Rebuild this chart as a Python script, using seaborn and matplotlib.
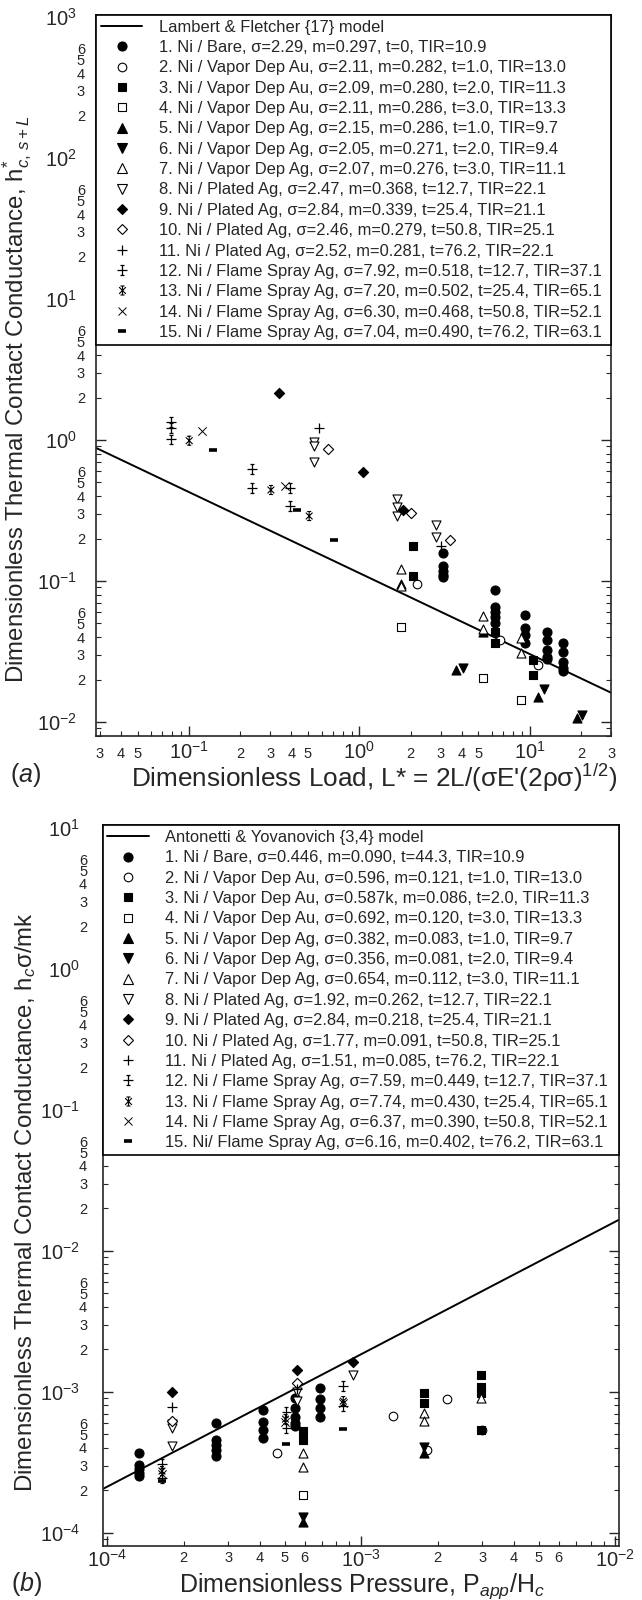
import numpy as np
import pandas as pd
import matplotlib
matplotlib.use("Agg")
import matplotlib.pyplot as plt
import seaborn as sns
from matplotlib.path import Path
from matplotlib.lines import Line2D
from matplotlib.ticker import LogLocator, FuncFormatter

# ---------------------------------------------------------------- data
# (a) dimensionless load L* vs. dimensionless conductance h*c,s+L
a1_x = [3.08] * 5 + [6.24] * 5 + [9.31] * 4 + [12.6] * 5 + [15.7] * 5
a1_y = [0.159, 0.128, 0.118, 0.110, 0.106,
        0.0863, 0.0654, 0.0603, 0.0556, 0.0504,
        0.0574, 0.0462, 0.0414, 0.0362,
        0.0437, 0.0382, 0.0324, 0.0290, 0.0279,
        0.0365, 0.0312, 0.0268, 0.0240, 0.0231]
a2_x = [2.19, 6.68, 11.1]
a2_y = [0.0952, 0.0382, 0.0254]
a3_x = [2.07, 2.07, 6.24, 6.24, 10.5, 10.5]
a3_y = [0.177, 0.108, 0.0437, 0.0361, 0.0275, 0.0216]
a4_x = [1.75, 5.29, 8.91]
a4_y = [0.0469, 0.0204, 0.0143]
a5_x = [1.75, 5.29, 3.69, 11.15, 18.9]
a5_y = [0.0952, 0.0435, 0.0234, 0.0151, 0.0106]
a6_x = [4.05, 12.1, 20.2]
a6_y = [0.0242, 0.0171, 0.0113]
a7_x = [1.75, 1.75, 5.29, 5.29, 8.87, 8.87]
a7_y = [0.121, 0.0922, 0.0565, 0.0457, 0.0394, 0.0309]
a8_x = [0.542, 0.542, 0.542, 1.67, 1.67, 1.67, 2.83, 2.83]
a8_y = [0.968, 0.907, 0.702, 0.380, 0.335, 0.289, 0.249, 0.206]
a9_x = [0.340, 1.046, 1.80]
a9_y = [2.17, 0.596, 0.319]
a10_x = [0.654, 2.01, 3.40]
a10_y = [0.859, 0.304, 0.194]
a11_x = [0.580, 3.03]
a11_y = [1.21, 0.177]
a12_x = [0.0785, 0.0785, 0.0785, 0.2354, 0.2354, 0.392, 0.392]
a12_y = [1.34, 1.22, 1.01, 0.620, 0.454, 0.454, 0.340]
a13_x = [0.1005, 0.303, 0.508]
a13_y = [0.989, 0.442, 0.289]
a14_x = [0.120, 0.366]
a14_y = [1.158, 0.472]
a15_x = [0.139, 0.431, 0.710]
a15_y = [0.849, 0.319, 0.195]
model_a_x = [0.0286, 30.1]
model_a_y = [0.878, 0.0161]

# (b) dimensionless pressure Papp/Hc vs. hc*sigma/mk
b1_x = [1.336e-4] * 5 + [2.69e-4] * 5 + [4.11e-4] * 4 + [5.48e-4] * 5 + [6.86e-4] * 4
b1_y = [3.69e-4, 3.02e-4, 2.82e-4, 2.66e-4, 2.52e-4,
        5.97e-4, 4.54e-4, 4.19e-4, 3.86e-4, 3.50e-4,
        7.41e-4, 6.12e-4, 5.35e-4, 4.67e-4,
        8.98e-4, 7.62e-4, 6.58e-4, 5.97e-4, 5.71e-4,
        1.057e-3, 8.83e-4, 7.62e-4, 6.65e-4]
b2_x = [4.67e-4, 1.34e-3, 1.82e-3, 2.18e-3, 2.99e-3]
b2_y = [3.69e-4, 6.76e-4, 3.86e-4, 8.83e-4, 5.35e-4]
b3_x = [5.91e-4, 5.91e-4, 1.775e-3, 1.775e-3, 2.96e-3, 2.96e-3, 2.96e-3, 2.96e-3]
b3_y = [5.26e-4, 4.54e-4, 9.75e-4, 8.28e-4, 1.314e-3, 1.085e-3, 9.75e-4, 5.35e-4]
b4_x = [5.91e-4]
b4_y = [1.85e-4]
b5_x = [5.91e-4, 1.775e-3]
b5_y = [1.19e-4, 3.67e-4]
b6_x = [5.91e-4, 1.775e-3]
b6_y = [1.30e-4, 4.07e-4]
b7_x = [5.91e-4, 5.91e-4, 1.775e-3, 1.775e-3, 2.96e-3]
b7_y = [3.69e-4, 2.91e-4, 7.03e-4, 6.22e-4, 8.98e-4]
b8_x = [1.807e-4, 1.807e-4, 1.807e-4, 5.58e-4, 5.58e-4, 9.33e-4]
b8_y = [5.90e-4, 5.53e-4, 4.12e-4, 1.0e-3, 8.63e-4, 1.314e-3]
b9_x = [1.807e-4, 5.58e-4, 9.33e-4]
b9_y = [1.0e-3, 1.426e-3, 1.633e-3]
b10_x = [1.807e-4, 5.58e-4]
b10_y = [6.22e-4, 1.147e-3]
b11_x = [1.807e-4, 5.58e-4]
b11_y = [7.75e-4, 1.05e-3]
b12_x = [1.646e-4, 1.646e-4, 5.08e-4, 5.08e-4, 8.51e-4, 8.51e-4]
b12_y = [3.10e-4, 2.44e-4, 7.21e-4, 5.50e-4, 1.097e-3, 7.92e-4]
b13_x = [1.646e-4, 5.04e-4, 8.51e-4]
b13_y = [2.74e-4, 6.40e-4, 8.59e-4]
b14_x = [1.646e-4, 5.04e-4, 8.51e-4]
b14_y = [2.61e-4, 6.09e-4, 8.31e-4]
b15_x = [1.646e-4, 5.08e-4, 8.51e-4]
b15_y = [2.33e-4, 4.26e-4, 5.44e-4]
model_b_x = [9.6e-5, 1.035e-2]
model_b_y = [2.04e-4, 1.66e-2]

labels_a = [
    "Lambert & Fletcher {17} model",
    "1. Ni / Bare, σ=2.29, m=0.297, t=0, TIR=10.9",
    "2. Ni / Vapor Dep Au, σ=2.11, m=0.282, t=1.0, TIR=13.0",
    "3. Ni / Vapor Dep Au, σ=2.09, m=0.280, t=2.0, TIR=11.3",
    "4. Ni / Vapor Dep Au, σ=2.11, m=0.286, t=3.0, TIR=13.3",
    "5. Ni / Vapor Dep Ag, σ=2.15, m=0.286, t=1.0, TIR=9.7",
    "6. Ni / Vapor Dep Ag, σ=2.05, m=0.271, t=2.0, TIR=9.4",
    "7. Ni / Vapor Dep Ag, σ=2.07, m=0.276, t=3.0, TIR=11.1",
    "8. Ni / Plated Ag, σ=2.47, m=0.368, t=12.7, TIR=22.1",
    "9. Ni / Plated Ag, σ=2.84, m=0.339, t=25.4, TIR=21.1",
    "10. Ni / Plated Ag, σ=2.46, m=0.279, t=50.8, TIR=25.1",
    "11. Ni / Plated Ag, σ=2.52, m=0.281, t=76.2, TIR=22.1",
    "12. Ni / Flame Spray Ag, σ=7.92, m=0.518, t=12.7, TIR=37.1",
    "13. Ni / Flame Spray Ag, σ=7.20, m=0.502, t=25.4, TIR=65.1",
    "14. Ni / Flame Spray Ag, σ=6.30, m=0.468, t=50.8, TIR=52.1",
    "15. Ni / Flame Spray Ag, σ=7.04, m=0.490, t=76.2, TIR=63.1",
]
labels_b = [
    "Antonetti & Yovanovich {3,4} model",
    "1. Ni / Bare, σ=0.446, m=0.090, t=44.3, TIR=10.9",
    "2. Ni / Vapor Dep Au, σ=0.596, m=0.121, t=1.0, TIR=13.0",
    "3. Ni / Vapor Dep Au, σ=0.587k, m=0.086, t=2.0, TIR=11.3",
    "4. Ni / Vapor Dep Au, σ=0.692, m=0.120, t=3.0, TIR=13.3",
    "5. Ni / Vapor Dep Ag, σ=0.382, m=0.083, t=1.0, TIR=9.7",
    "6. Ni / Vapor Dep Ag, σ=0.356, m=0.081, t=2.0, TIR=9.4",
    "7. Ni / Vapor Dep Ag, σ=0.654, m=0.112, t=3.0, TIR=11.1",
    "8. Ni / Plated Ag, σ=1.92, m=0.262, t=12.7, TIR=22.1",
    "9. Ni / Plated Ag, σ=2.84, m=0.218, t=25.4, TIR=21.1",
    "10. Ni / Plated Ag, σ=1.77, m=0.091, t=50.8, TIR=25.1",
    "11. Ni / Plated Ag, σ=1.51, m=0.085, t=76.2, TIR=22.1",
    "12. Ni / Flame Spray Ag, σ=7.59, m=0.449, t=12.7, TIR=37.1",
    "13. Ni / Flame Spray Ag, σ=7.74, m=0.430, t=25.4, TIR=65.1",
    "14. Ni / Flame Spray Ag, σ=6.37, m=0.390, t=50.8, TIR=52.1",
    "15. Ni/ Flame Spray Ag, σ=6.16, m=0.402, t=76.2, TIR=63.1",
]

# ---------------------------------------------------------------- style
sns.set_style("ticks")
plt.rcParams["font.family"] = ["Liberation Sans", "DejaVu Sans"]
plt.rcParams["mathtext.fontset"] = "custom"
plt.rcParams["mathtext.rm"] = "Liberation Sans"
plt.rcParams["mathtext.it"] = "Liberation Sans:italic"
plt.rcParams["mathtext.bf"] = "Liberation Sans:bold"
plt.rcParams["mathtext.sf"] = "Liberation Sans"
plt.rcParams["axes.linewidth"] = 1.2

# plus sign with serif caps (flame spray, 12.7 um)
capped_plus = Path(
    [(0, -1), (0, 1), (-1, 0), (1, 0), (-0.4, 1), (0.4, 1), (-0.4, -1), (0.4, -1)],
    [Path.MOVETO, Path.LINETO] * 4)
# starred bar (flame spray, 25.4 um)
starred_bar = Path(
    [(0, -1), (0, 1), (-0.75, -0.75), (0.75, 0.75), (-0.75, 0.75), (0.75, -0.75),
     (-0.45, 1), (0.45, 1), (-0.45, -1), (0.45, -1)],
    [Path.MOVETO, Path.LINETO] * 5)

# marker, kind, size (points), edge width
styles = [
    ("o", "filled", 6.5, 0.8),
    ("o", "open", 6.2, 0.8),
    ("s", "filled", 6.0, 0.8),
    ("s", "open", 5.8, 0.8),
    ("^", "filled", 6.5, 0.8),
    ("v", "filled", 6.5, 0.8),
    ("^", "open", 6.5, 0.8),
    ("v", "open", 6.5, 0.8),
    ("D", "filled", 5.2, 0.8),
    ("D", "open", 5.2, 0.8),
    ("+", "line", 7.0, 0.9),
    (capped_plus, "path", 7.0, 0.9),
    (starred_bar, "path", 6.5, 0.8),
    ("x", "line", 6.0, 0.7),
    ("_", "line", 6.0, 2.6),
]

series_a = [(a1_x, a1_y), (a2_x, a2_y), (a3_x, a3_y), (a4_x, a4_y), (a5_x, a5_y),
            (a6_x, a6_y), (a7_x, a7_y), (a8_x, a8_y), (a9_x, a9_y), (a10_x, a10_y),
            (a11_x, a11_y), (a12_x, a12_y), (a13_x, a13_y), (a14_x, a14_y), (a15_x, a15_y)]
series_b = [(b1_x, b1_y), (b2_x, b2_y), (b3_x, b3_y), (b4_x, b4_y), (b5_x, b5_y),
            (b6_x, b6_y), (b7_x, b7_y), (b8_x, b8_y), (b9_x, b9_y), (b10_x, b10_y),
            (b11_x, b11_y), (b12_x, b12_y), (b13_x, b13_y), (b14_x, b14_y), (b15_x, b15_y)]


def draw_series(ax, xs, ys, style):
    marker, kind, ms, lw = style
    df = pd.DataFrame({"x": xs, "y": ys})
    kw = dict(marker=marker, s=ms ** 2, linewidth=lw, zorder=3, legend=False)
    if kind == "filled":
        kw.update(color="black", edgecolor="black")
    elif kind == "open":
        kw.update(color="black", facecolor="white", edgecolor="black")
    elif kind == "path":
        kw.update(color="black", facecolor="none", edgecolor="black")
    else:
        kw.update(color="black")
    sns.scatterplot(data=df, x="x", y="y", ax=ax, **kw)


def legend_handle(style):
    marker, kind, ms, lw = style
    if kind == "filled":
        return Line2D([], [], ls="none", marker=marker, ms=ms, mfc="black", mec="black", mew=lw)
    if kind == "open":
        return Line2D([], [], ls="none", marker=marker, ms=ms, mfc="white", mec="black", mew=lw)
    if kind == "path":
        return Line2D([], [], ls="none", marker=marker, ms=ms, mfc="none", mec="black", mew=lw)
    return Line2D([], [], ls="none", marker=marker, ms=ms, color="black", mew=lw)


def major_fmt(v, pos):
    return r"$\mathregular{10^{%d}}$" % int(round(np.log10(v)))


def minor_fmt(allowed):
    def f(v, pos):
        e = np.floor(np.log10(v) + 1e-9)
        d = int(round(v / 10 ** e))
        return str(d) if d in allowed else ""
    return f


def setup_axis(ax, xlim, ylim, x_minor_digits, ypads, xpads):
    ax.set_xscale("log")
    ax.set_yscale("log")
    ax.set_xlim(*xlim)
    ax.set_ylim(*ylim)
    for axis in (ax.xaxis, ax.yaxis):
        axis.set_major_locator(LogLocator(base=10, numticks=100))
        axis.set_minor_locator(LogLocator(base=10, subs=np.arange(2, 10), numticks=100))
        axis.set_major_formatter(FuncFormatter(major_fmt))
    ax.xaxis.set_minor_formatter(FuncFormatter(minor_fmt(x_minor_digits)))
    ax.yaxis.set_minor_formatter(FuncFormatter(minor_fmt({2, 3, 4, 5, 6})))
    ax.tick_params(which="major", direction="in", length=7, width=1.0,
                   right=True, top=True, labelsize=14.5)
    ax.tick_params(which="minor", direction="in", length=3.5, width=0.8,
                   right=True, top=True, labelsize=10.5)
    ax.tick_params(axis="y", which="major", pad=ypads[0])
    ax.tick_params(axis="y", which="minor", pad=ypads[1])
    ax.tick_params(axis="x", which="major", pad=xpads[0])
    ax.tick_params(axis="x", which="minor", pad=xpads[1])
    for sp in ax.spines.values():
        sp.set_visible(True)
        sp.set_linewidth(1.2)


def fitted_legend(fig, ax, handles, labels, bottom_frac, fs=11.9):
    common = dict(loc="upper left", bbox_to_anchor=(0, 0, 1, 1), mode="expand",
                  borderaxespad=0, fontsize=fs, handlelength=2.5, handletextpad=1.0,
                  borderpad=0.3, frameon=True, fancybox=False, framealpha=1,
                  edgecolor="black")
    spacing = 0.15
    fs_px = fs * fig.dpi / 72
    for _ in range(3):
        leg = ax.legend(handles, labels, labelspacing=spacing, **common)
        fig.canvas.draw()
        target = ax.get_window_extent().height * (1 - bottom_frac)
        spacing += (target - leg.get_window_extent().height) / (15 * fs_px)
        leg.remove()
    leg = ax.legend(handles, labels, labelspacing=spacing, **common)
    leg.get_frame().set_linewidth(1.2)
    leg.set_zorder(6)
    return leg


fig = plt.figure(figsize=(6.42, 16), dpi=100)
ax_a = fig.add_axes([0.1498, 0.5402, 0.8025, 0.4506])
ax_b = fig.add_axes([0.1597, 0.0339, 0.8044, 0.4504])

model_handles = [Line2D([], [], color="black", lw=1.4)]
marker_handles = [legend_handle(st) for st in styles]

# ---------------------------------------------------------------- panel (a)
sns.lineplot(x=model_a_x, y=model_a_y, color="black", lw=1.4, ax=ax_a, zorder=2)
for (xs, ys), st in zip(series_a, styles):
    draw_series(ax_a, xs, ys, st)
setup_axis(ax_a, (0.0286, 30.1), (0.0080, 1037.5), {2, 3, 4, 5},
           ypads=(14, 8), xpads=(4, 8))
ax_a.set_xlabel("Dimensionless Load, L* = 2L/(σE'(2ρσ)$^{1/2}$)", fontsize=18.8)
ax_a.set_ylabel(r"Dimensionless Thermal Contact Conductance, h$^{*}_{c,\,s+L}$",
                fontsize=17.3)
ax_a.xaxis.set_label_coords(0.539, -0.0365)
ax_a.yaxis.set_label_coords(-0.12, 0.466)

# ---------------------------------------------------------------- panel (b)
sns.lineplot(x=model_b_x, y=model_b_y, color="black", lw=1.4, ax=ax_b, zorder=2)
for (xs, ys), st in zip(series_b, styles):
    draw_series(ax_b, xs, ys, st)
setup_axis(ax_b, (9.6e-5, 1.035e-2), (8.09e-5, 10.45), {2, 3, 4, 5, 6},
           ypads=(16, 11), xpads=(2, 4))
ax_b.set_xlabel(r"Dimensionless Pressure, P$_{app}$/H$_{c}$", fontsize=18)
ax_b.set_ylabel(r"Dimensionless Thermal Contact Conductance, h$_{c}$σ/mk", fontsize=17.3)
ax_b.xaxis.set_label_coords(0.5025, -0.035)
ax_b.yaxis.set_label_coords(-0.124, 0.477)

fitted_legend(fig, ax_a, model_handles + marker_handles, labels_a, 0.542)
fitted_legend(fig, ax_b, model_handles + marker_handles, labels_b, 0.542)

fig.text(26 / 642, 1 - 775 / 1600, r"($\mathit{a}$)", ha="center", va="center", fontsize=18)
fig.text(27 / 642, 1 - 1584 / 1600, r"($\mathit{b}$)", ha="center", va="center", fontsize=18)

fig.savefig("out.png", dpi=100)
